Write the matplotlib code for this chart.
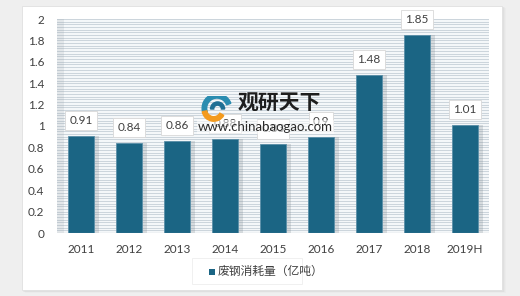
import matplotlib
matplotlib.use("Agg")
import matplotlib.pyplot as plt
from matplotlib.patches import Rectangle, Wedge
import numpy as np

plt.rcParams['font.family'] = ['Lato', 'Noto Sans CJK SC', 'DejaVu Sans']

years = ['2011', '2012', '2013', '2014', '2015', '2016', '2017', '2018', '2019H']
values = [0.91, 0.84, 0.86, 0.88, 0.83, 0.9, 1.48, 1.85, 1.01]
value_labels = ['0.91', '0.84', '0.86', '0.88', '0.83', '0.9', '1.48', '1.85', '1.01']
series_name = '废钢消耗量（亿吨）'
yticks = [0, 0.2, 0.4, 0.6, 0.8, 1, 1.2, 1.4, 1.6, 1.8, 2]
bar_color = '#1b6584'

fig = plt.figure(figsize=(5.2, 2.96), dpi=100)
fig.patch.set_facecolor('#efefef')

# white card with soft shadow
for i, a in enumerate([0.05, 0.08, 0.12]):
    d = (3 - i) / 520
    fig.patches.append(Rectangle((22/520 + d, 1 - 291/296 - d), 481/520, 285/296,
                                 transform=fig.transFigure, facecolor='#b0b0b0',
                                 alpha=a, edgecolor='none', zorder=-10))
fig.patches.append(Rectangle((22/520, 1 - 290/296), 480/520, 284/296,
                             transform=fig.transFigure, facecolor='white',
                             edgecolor='#e0e0e0', lw=0.6, zorder=-9))

ax = fig.add_axes([57/520, 1 - 233/296, 432/520, 214/296])
ax.set_zorder(1)
ax.set_facecolor('#f4f7f9')
x = np.arange(len(years))

# striped background
for yy in np.arange(0, 2.001, 0.025):
    ax.axhline(yy, color='#cbd4dc', lw=0.7, zorder=0)

# left wall shade
ax.axvspan(-0.5, -0.35, color='#9aa3aa', alpha=0.18, lw=0, zorder=0.5)

# bar shadows
ax.bar(x + 0.08, values, width=0.6, color='#7d8890', alpha=0.25, zorder=1)
ax.bar(x, values, width=0.55, color=bar_color, edgecolor='#5a8fa8', lw=0.6, zorder=2)

for xi, v, t in zip(x, values, value_labels):
    ax.annotate(t, (xi, v), xytext=(0, 11), textcoords='offset points',
                ha='center', va='center', fontsize=8.5, color='#404040', zorder=5,
                bbox=dict(boxstyle='square,pad=0.35', facecolor='white',
                          edgecolor='#d8d8d8', lw=0.6))

ax.set_xlim(-0.5, len(years) - 0.5)
ax.set_ylim(0, 2)
ax.set_yticks(yticks)
ax.set_yticklabels([f'{t:g}' for t in yticks])
ax.set_xticks(x)
ax.set_xticklabels(years)
ax.tick_params(axis='both', length=0, labelsize=8.5, colors='#404040')
ax.tick_params(axis='x', pad=8)
ax.tick_params(axis='y', pad=9)
for s in ax.spines.values():
    s.set_visible(False)
ax.axhline(0, color='#a0a8ae', lw=0.8, zorder=3)

# watermark
fig.text(238/520, 1 - 103/296, '观研天下', fontsize=15, fontweight='bold',
         color='#1e1e1e', family=['Noto Sans CJK SC'], ha='left', va='center', zorder=10)
fig.text(198/520, 1 - 127/296, 'www.chinabaogao.com', fontsize=9.5,
         color='#2a2a2a', ha='left', va='center', zorder=10,
         bbox=dict(boxstyle='square,pad=0.1', facecolor='white', alpha=0.55, edgecolor='none'))
logo = fig.add_axes([197/520, 1 - 122/296, 36/520, 26/296])
logo.set_zorder(11)
logo.set_xlim(-1.4, 1.4)
logo.set_ylim(-1, 1)
logo.set_aspect('equal')
logo.axis('off')
logo.add_patch(Wedge((0.15, 0.05), 1.15, 20, 200, width=0.35, color='#2a8cb0'))
logo.add_patch(Wedge((-0.1, -0.05), 0.9, 190, 330, width=0.35, color='#f39a1e'))
logo.add_patch(Wedge((0.2, 0.0), 0.55, 0, 180, width=0.25, color='#1f6f94'))

# legend box
fig.patches.append(Rectangle((192/520, 1 - 284/296), 110/520, 26/296,
                             transform=fig.transFigure, facecolor='white',
                             edgecolor='#eeeeee', lw=0.6, zorder=5))
fig.patches.append(Rectangle((209/520, 1 - 275/296), 6/520, 6/296,
                             transform=fig.transFigure, facecolor=bar_color,
                             edgecolor='none', zorder=6))
fig.text(218/520, 1 - 271/296, series_name, fontsize=8.5, color='#404040',
         ha='left', va='center', zorder=6)

fig.savefig('out.png', dpi=100, facecolor=fig.get_facecolor())
